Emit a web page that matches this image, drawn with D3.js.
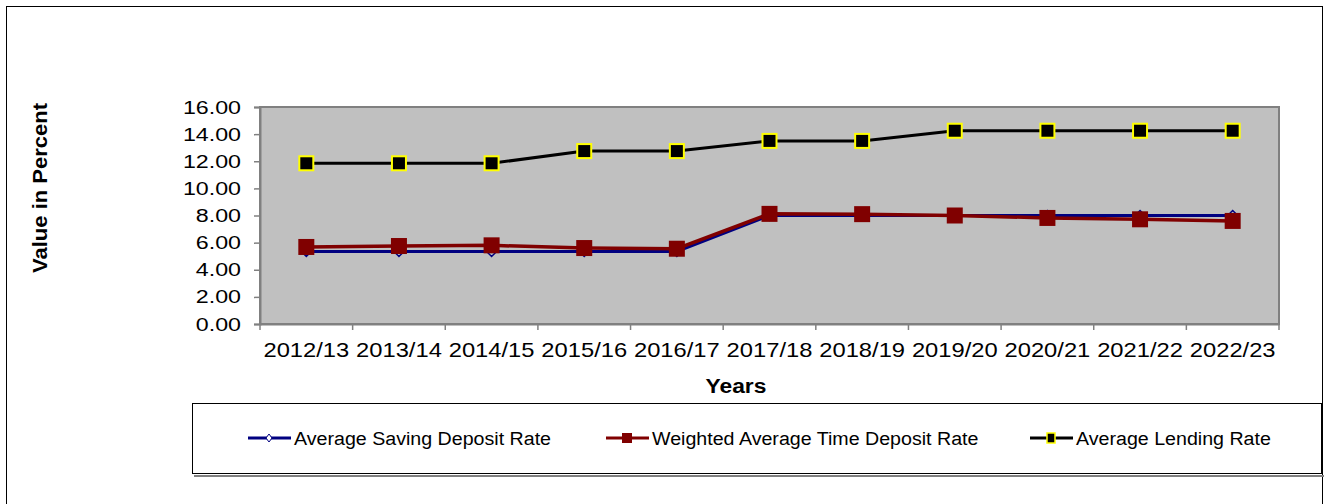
<!DOCTYPE html>
<html>
<head>
<meta charset="utf-8">
<script src="https://cdn.jsdelivr.net/npm/d3@7"></script>
<style>
  body { margin: 0; background: #fff; }
  svg { font-family: "Liberation Sans", Arial, sans-serif; }
</style>
</head>
<body>
<div id="chart"></div>
<script>
// chart data
var years = ['2012/13', '2013/14', '2014/15', '2015/16', '2016/17', '2017/18',
             '2018/19', '2019/20', '2020/21', '2021/22', '2022/23'];
var savingRate = [5.35, 5.35, 5.35, 5.35, 5.35, 8.0, 8.0, 8.0, 8.0, 8.0, 8.0];
var timeDepositRate = [5.68, 5.75, 5.8, 5.6, 5.55, 8.12, 8.1, 8.0, 7.82, 7.72, 7.6];
var lendingRate = [11.85, 11.85, 11.85, 12.75, 12.75, 13.5, 13.5, 14.25, 14.25, 14.25, 14.25];
var yTicks = [0, 2, 4, 6, 8, 10, 12, 14, 16];
var seriesNames = ['Average Saving Deposit Rate', 'Weighted Average Time Deposit Rate', 'Average Lending Rate'];

var W = 1328, H = 504;
var margin = {top: 107, left: 260},
    width = 1279 - margin.left,
    height = 324 - margin.top;

// the original text is a bit wider than Arial, stretch it horizontally
function stretch(sel, f) {
  sel.each(function() {
    var w = this.getComputedTextLength();
    d3.select(this).attr('textLength', w * f).attr('lengthAdjust', 'spacingAndGlyphs');
  });
}

var svg = d3.select('#chart').append('svg')
    .attr('width', W)
    .attr('height', H);

// outer frame
svg.append('rect')
    .attr('x', 6.5).attr('y', 6.5)
    .attr('width', 1316).attr('height', 510)
    .attr('fill', 'none').attr('stroke', '#000').attr('stroke-width', 1);

var g = svg.append('g')
    .attr('transform', 'translate(' + margin.left + ',' + margin.top + ')');

var x = d3.scaleBand().domain(years).range([0, width]);
var y = d3.scaleLinear().domain([0, 16]).range([height, 0]);

// plot area
g.append('rect')
    .attr('width', width).attr('height', height)
    .attr('fill', '#c0c0c0')
    .attr('stroke', '#808080').attr('stroke-width', 2);

// y axis
var yAxis = g.append('g')
    .call(d3.axisLeft(y).tickValues(yTicks).tickFormat(d3.format('.2f')).tickSize(6).tickPadding(13));
yAxis.select('.domain').attr('stroke', '#808080').attr('stroke-width', 2);
yAxis.selectAll('.tick line').attr('stroke', '#808080').attr('stroke-width', 1.5);
yAxis.selectAll('text').attr('font-size', 18).attr('fill', '#000').attr('dy', 6)
    .attr('font-family', '"Liberation Sans", Arial, sans-serif')
    .call(stretch, 1.29);

// x axis: ticks at category boundaries
var xAxis = g.append('g')
    .attr('transform', 'translate(0,' + height + ')')
    .call(d3.axisBottom(x).tickSize(0));
xAxis.select('.domain').attr('stroke', '#808080').attr('stroke-width', 2);
xAxis.selectAll('text').attr('font-size', 21).attr('fill', '#000')
    .attr('y', 33).attr('dy', 0)
    .attr('font-family', '"Liberation Sans", Arial, sans-serif')
    .call(stretch, 1.13);
xAxis.selectAll('.bound')
    .data(years.concat(['end']))
    .enter().append('line')
    .attr('x1', function(d, i) { return i * x.step(); })
    .attr('x2', function(d, i) { return i * x.step(); })
    .attr('y1', 0).attr('y2', 6)
    .attr('stroke', '#808080').attr('stroke-width', 1.5);

var cx = function(d, i) { return x(years[i]) + x.bandwidth() / 2; };
var line = d3.line().x(function(d, i) { return x(years[i]) + x.bandwidth() / 2; }).y(function(d) { return y(d); });

// saving deposit rate
g.append('path').datum(savingRate)
    .attr('d', line).attr('fill', 'none').attr('stroke', '#000080').attr('stroke-width', 3);
g.selectAll('.sav').data(savingRate).enter().append('path')
    .attr('class', 'sav')
    .attr('transform', function(d, i) { return 'translate(' + cx(d, i) + ',' + y(d) + ')'; })
    .attr('d', 'M0,-5L5,0L0,5L-5,0Z')
    .attr('fill', '#c0c0c0').attr('stroke', '#000080').attr('stroke-width', 1.5);

// time deposit rate
g.append('path').datum(timeDepositRate)
    .attr('d', line).attr('fill', 'none').attr('stroke', '#800000').attr('stroke-width', 3.5);
g.selectAll('.tdr').data(timeDepositRate).enter().append('rect')
    .attr('class', 'tdr')
    .attr('x', function(d, i) { return cx(d, i) - 8; })
    .attr('y', function(d) { return y(d) - 8; })
    .attr('width', 16).attr('height', 16)
    .attr('fill', '#800000');

// lending rate
g.append('path').datum(lendingRate)
    .attr('d', line).attr('fill', 'none').attr('stroke', '#000').attr('stroke-width', 3);
g.selectAll('.lend').data(lendingRate).enter().append('rect')
    .attr('class', 'lend')
    .attr('x', function(d, i) { return cx(d, i) - 7; })
    .attr('y', function(d) { return y(d) - 7; })
    .attr('width', 14).attr('height', 14)
    .attr('fill', '#000').attr('stroke', '#ffff00').attr('stroke-width', 2);

// axis titles
svg.append('text')
    .attr('transform', 'translate(47,188) rotate(-90)')
    .attr('text-anchor', 'middle')
    .attr('font-size', 20).attr('font-weight', 'bold')
    .text('Value in Percent')
    .call(stretch, 1.10);
svg.append('text')
    .attr('x', 736).attr('y', 393)
    .attr('text-anchor', 'middle')
    .attr('font-size', 20).attr('font-weight', 'bold')
    .text('Years')
    .call(stretch, 1.14);

// legend
var lg = svg.append('g');
lg.append('rect')
    .attr('x', 194).attr('y', 475).attr('width', 1130).attr('height', 2)
    .attr('fill', '#808080');
lg.append('rect')
    .attr('x', 192.5).attr('y', 403.5).attr('width', 1129).attr('height', 70)
    .attr('fill', '#fff').attr('stroke', '#000').attr('stroke-width', 1);

var legendX = [248, 606, 1030];
var colors = ['#000080', '#800000', '#000'];
var item = lg.selectAll('.item').data(seriesNames).enter().append('g')
    .attr('transform', function(d, i) { return 'translate(' + legendX[i] + ',438)'; });
item.append('line')
    .attr('x1', 0).attr('x2', 43)
    .attr('stroke', function(d, i) { return colors[i]; })
    .attr('stroke-width', 3);
item.append('text')
    .attr('x', 46).attr('y', 6.5)
    .attr('font-size', 18)
    .text(function(d) { return d; })
    .call(stretch, 1.09);
// legend markers
item.filter(function(d, i) { return i === 0; }).append('path')
    .attr('transform', 'translate(21,0)')
    .attr('d', 'M0,-4L3,0L0,4L-3,0Z')
    .attr('fill', '#fff').attr('stroke', '#000080').attr('stroke-width', 1);
item.filter(function(d, i) { return i === 1; }).append('rect')
    .attr('x', 16).attr('y', -5).attr('width', 10).attr('height', 10)
    .attr('fill', '#800000');
item.filter(function(d, i) { return i === 2; }).append('rect')
    .attr('x', 17).attr('y', -5).attr('width', 8).attr('height', 10)
    .attr('fill', '#000').attr('stroke', '#ffff00').attr('stroke-width', 1.5);
</script>
</body>
</html>
